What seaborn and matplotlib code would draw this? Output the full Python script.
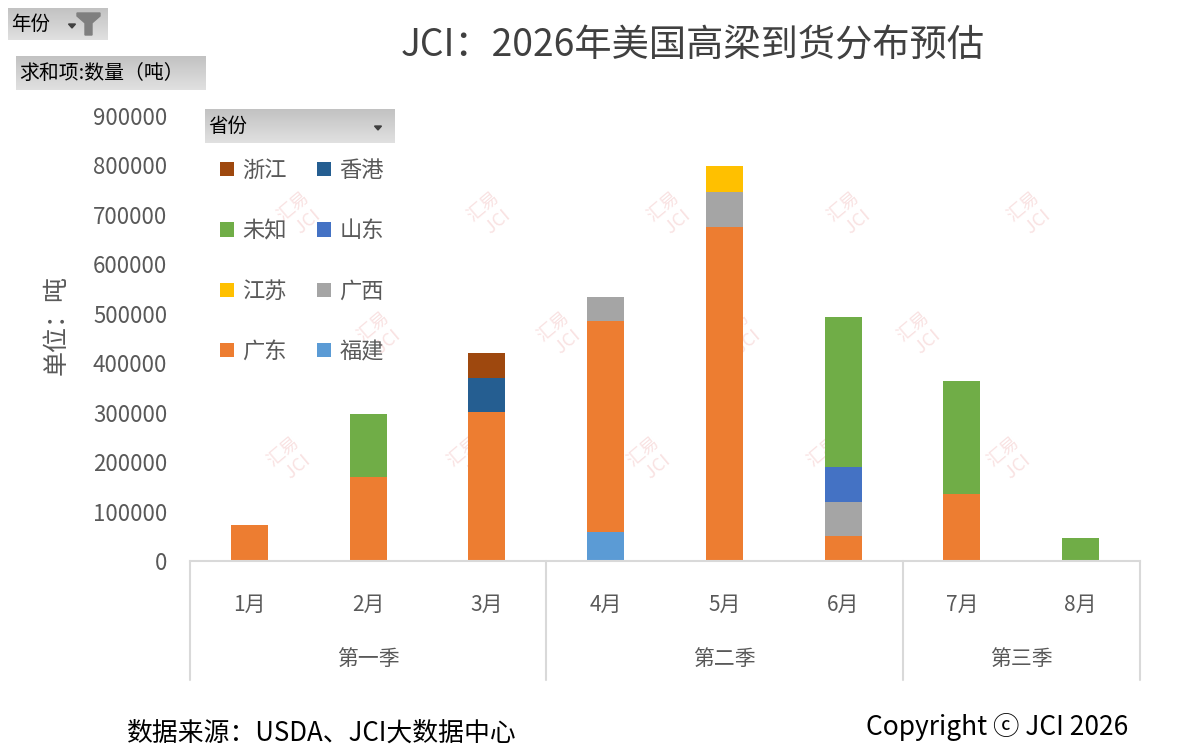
import numpy as np
import pandas as pd
import matplotlib
matplotlib.use("Agg")
import matplotlib.pyplot as plt
import matplotlib.transforms as mtransforms
from matplotlib.patches import Patch, Polygon
import seaborn as sns

# ---------------- data ----------------
months = ["1月", "2月", "3月", "4月", "5月", "6月", "7月", "8月"]
quarters = ["第一季", "第二季", "第三季"]
quarter_sizes = [3, 3, 2]

provinces = ["福建", "广东", "广西", "江苏", "山东", "未知", "香港", "浙江"]  # bottom -> top
fujian   = [0, 0, 0, 59000, 0, 0, 0, 0]
guangdong = [72000, 169000, 301000, 426000, 675000, 50000, 135000, 0]
guangxi  = [0, 0, 0, 49000, 71000, 69000, 0, 0]
jiangsu  = [0, 0, 0, 0, 53000, 0, 0, 0]
shandong = [0, 0, 0, 0, 0, 72000, 0, 0]
weizhi   = [0, 128000, 0, 0, 0, 303000, 229000, 46000]
xianggang = [0, 0, 69000, 0, 0, 0, 0, 0]
zhejiang = [0, 0, 51000, 0, 0, 0, 0, 0]
series = [fujian, guangdong, guangxi, jiangsu, shandong, weizhi, xianggang, zhejiang]
colors = ["#5B9BD5", "#ED7D31", "#A5A5A5", "#FFC000", "#4472C4", "#70AD47", "#255E91", "#9E480E"]
# legend read row-wise: 浙江 香港 / 未知 山东 / 江苏 广西 / 广东 福建
legend_order = ["浙江", "香港", "未知", "山东", "江苏", "广西", "广东", "福建"]

yticks = [0, 100000, 200000, 300000, 400000, 500000, 600000, 700000, 800000, 900000]

# ---------------- style ----------------
sns.set_theme(style="white")
plt.rcParams["font.family"] = ["Noto Sans CJK SC", "DejaVu Sans"]
plt.rcParams["axes.unicode_minus"] = False

W, H = 1188, 747
fig = plt.figure(figsize=(W / 100, H / 100), dpi=100)
fig.patch.set_facecolor("white")


def fx(px):
    return px / W


def fy(py):
    return 1 - py / H


ax_left, ax_right, ax_top, ax_bottom = 190, 1140, 116, 561
ax = fig.add_axes([fx(ax_left), fy(ax_bottom), fx(ax_right - ax_left), fy(ax_top) - fy(ax_bottom)])
ax.patch.set_alpha(0)

# ---------------- watermarks (behind everything) ----------------
wm_pos = [(300, 215), (490, 215), (670, 215), (850, 215), (1030, 215),
          (380, 335), (560, 335), (740, 335), (920, 335),
          (290, 460), (470, 460), (650, 460), (830, 460), (1010, 460)]
for (px, py) in wm_pos:
    fig.text(fx(px), fy(py), "汇易\n JCI", rotation=40, fontsize=13, color="#F3C6C6",
             alpha=0.5, ha="center", va="center", zorder=-5)

# ---------------- stacked bars ----------------
bottom = np.zeros(len(months))
for name, vals, c in zip(provinces, series, colors):
    df = pd.DataFrame({"month": months, "value": vals})
    sns.barplot(data=df, x="month", y="value", order=months, color=c,
                width=0.31, bottom=bottom.copy(), linewidth=0, ax=ax,
                saturation=1, errorbar=None)
    bottom += np.array(vals, dtype=float)

ax.set_xlim(-0.5, len(months) - 0.5)
ax.set_ylim(0, 900000)
ax.set_yticks(yticks)
ax.set_yticklabels([str(v) for v in yticks], fontsize=16, color="#595959")
ax.tick_params(axis="y", length=0, pad=16.5)
ax.set_xticks(range(len(months)))
ax.set_xticklabels(months, fontsize=15, color="#595959")
ax.tick_params(axis="x", length=0, pad=24)
ax.set_xlabel("")
ax.set_ylabel("")
for s in ["top", "right", "left"]:
    ax.spines[s].set_visible(False)
ax.spines["bottom"].set_color("#D9D9D9")
ax.spines["bottom"].set_linewidth(1.5)
ax.grid(False)

# multi-level category axis
trans = mtransforms.blended_transform_factory(ax.transData, ax.transAxes)
depth = -(680 - ax_bottom) / (ax_bottom - ax_top)
qlab_y = -(659 - ax_bottom) / (ax_bottom - ax_top)
edges = np.concatenate([[0], np.cumsum(quarter_sizes)]) - 0.5
for e in edges:
    ax.plot([e, e], [0, depth], transform=trans, color="#D9D9D9", lw=1.5, clip_on=False)
for i, q in enumerate(quarters):
    ax.text((edges[i] + edges[i + 1]) / 2, qlab_y, q, transform=trans, ha="center",
            va="center", fontsize=15, color="#595959")

# ---------------- legend ----------------
cmap = dict(zip(provinces, colors))
# matplotlib fills columns first -> reorder so rows read like the reference
col1 = legend_order[0::2]
col2 = legend_order[1::2]
ordered = col1 + col2
handles = [Patch(facecolor=cmap[n], edgecolor="none", label=n) for n in ordered]
leg = fig.legend(handles=handles, ncol=2, loc="upper left",
                 bbox_to_anchor=(fx(220), fy(159)), bbox_transform=fig.transFigure,
                 frameon=False, fontsize=16, labelspacing=1.68, handlelength=0.63,
                 handleheight=0.63, handletextpad=0.35, columnspacing=1.4,
                 borderpad=0, borderaxespad=0)
for t in leg.get_texts():
    t.set_color("#595959")

# ---------------- title & labels ----------------
fig.text(fx(693), fy(46), "JCI：2026年美国高梁到货分布预估", ha="center", va="center",
         fontsize=26.8, color="#404040")
fig.text(fx(57), fy(325), "单位：吨", rotation=90, ha="center", va="center",
         fontsize=18, color="#595959")
fig.text(fx(127), fy(733), "数据来源：USDA、JCI大数据中心", ha="left", va="center",
         fontsize=18.6, color="black")
fig.text(fx(1128), fy(727), "Copyright ⓒ JCI 2026", ha="right", va="center",
         fontsize=19, color="black", family=["Noto Sans CJK SC", "DejaVu Sans"])

# ---------------- pivot buttons ----------------
grad = np.linspace(0.88, 0.76, 50).reshape(-1, 1)


def button(x0, y0, x1, y1, label, fs, arrow_x=None, funnel=False):
    bax = fig.add_axes([fx(x0), fy(y1), fx(x1 - x0), fy(y0) - fy(y1)])
    bax.imshow(grad, aspect="auto", cmap="gray", vmin=0, vmax=1,
               extent=[0, x1 - x0, 0, y1 - y0])
    bax.set_xlim(0, x1 - x0)
    bax.set_ylim(y1 - y0, 0)
    bax.axis("off")
    bax.text(3, (y1 - y0) / 2, label, ha="left", va="center", fontsize=fs, color="black")
    if arrow_x is not None:
        a = arrow_x - x0
        cy = (y1 - y0) / 2 + 2
        bax.add_patch(Polygon([[a - 3.5, cy - 2], [a + 3.5, cy - 2], [a, cy + 2]],
                              closed=True, color="#404040"))
    if funnel:
        f0 = 69
        bax.add_patch(Polygon([[f0, 5], [f0 + 23, 5], [f0 + 23, 8], [f0 + 15, 15],
                               [f0 + 15, 27], [f0 + 8, 27], [f0 + 8, 15], [f0, 8]],
                              closed=True, color="#7F7F7F"))
    return bax


button(8, 8, 108, 40, "年份", 14, arrow_x=72, funnel=True)
button(16, 56, 206, 90, "求和项:数量（吨）", 14.3)
button(205, 109, 395, 143, "省份", 14, arrow_x=378)

fig.savefig("out.png", dpi=100, facecolor="white")
